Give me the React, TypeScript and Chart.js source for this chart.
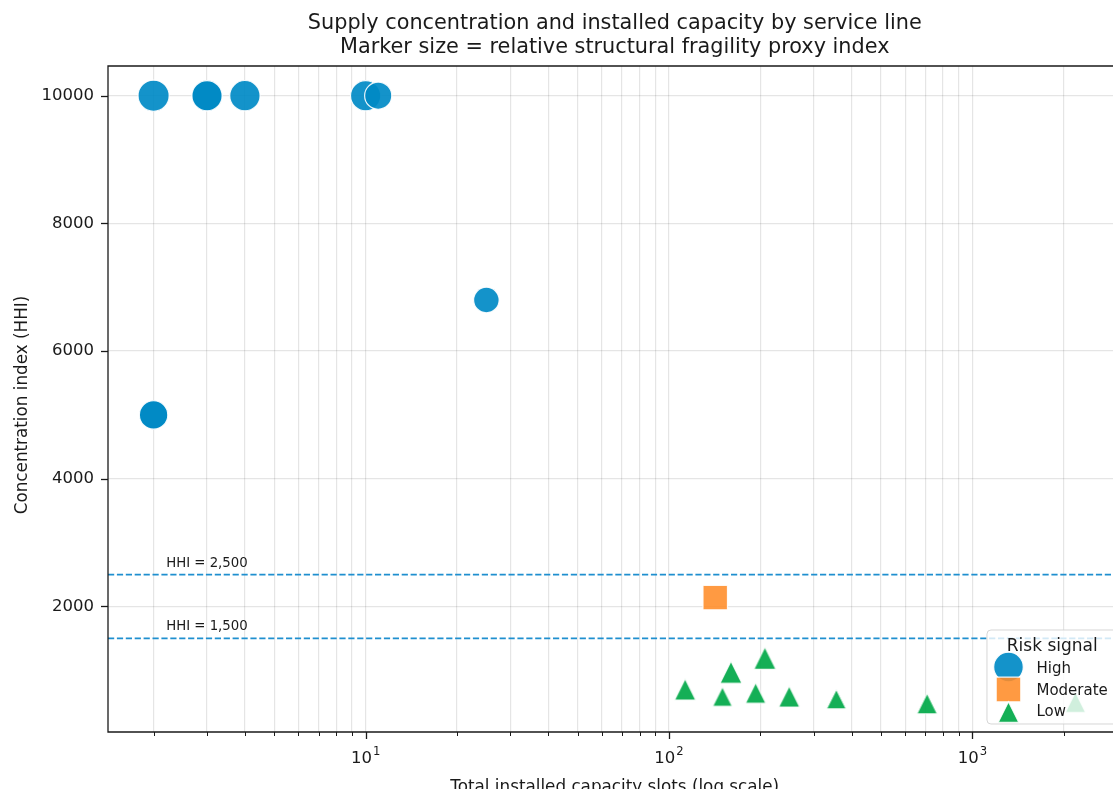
import React, { useEffect, useRef } from "react";
import { Chart, registerables } from "chart.js";

Chart.register(...registerables);

// ---------- data ----------
const riskLevels = ["High", "Moderate", "Low"];

const highCapacity = [2, 3, 3, 4, 10, 11, 25, 2, 2];
const highHHI = [10000, 10000, 10000, 10000, 10000, 10000, 6800, 5000, 5000];
const highFragility = [0.93, 0.86, 0.86, 0.87, 0.86, 0.63, 0.52, 0.72, 0.72];

const moderateCapacity = [142];
const moderateHHI = [2140];
const moderateFragility = [0.375];

const lowCapacity = [113, 150, 160, 193, 207, 249, 356, 709, 2185];
const lowHHI = [700, 590, 970, 645, 1190, 590, 550, 480, 500];
const lowFragility = [0.2, 0.11, 0.23, 0.15, 0.25, 0.18, 0.11, 0.15, 0.15];

const thresholdValues = [2500, 1500];
const thresholdLabels = ["HHI = 2,500", "HHI = 1,500"];
const thresholdLabelX = 2.2;

const yTicks = [2000, 4000, 6000, 8000, 10000];
const xMajorTicks = [10, 100, 1000];
const xMajorBase = ["10", "10", "10"];
const xMajorExp = ["1", "2", "3"];

const X_MIN = 1.415;
const X_MAX = 3100;
const Y_MIN = 34;
const Y_MAX = 10465;

const titleLines = [
  "Supply concentration and installed capacity by service line",
  "Marker size = relative structural fragility proxy index",
];
const xAxisTitle = "Total installed capacity slots (log scale)";
const yAxisTitle = "Concentration index (HHI)";
const legendTitle = "Risk signal";

// ---------- styles ----------
const FONT = "'DejaVu Sans', sans-serif";
const TEXT = "#1a1a1a";
const HIGH_FILL = "rgba(0,138,198,0.92)";
const MOD_FILL = "rgba(255,140,40,0.88)";
const LOW_FILL = "rgba(0,168,72,0.92)";
const EDGE = "rgba(255,255,255,0.9)";
const THRESH_COLOR = "#1f8fcf";
const GRID = "rgba(0,0,0,0.1)";

const diam = (f: number) => Math.sqrt(300 + 800 * f);

function trianglePath(ctx: CanvasRenderingContext2D, cx: number, cy: number, d: number) {
  const h = d / 2;
  ctx.beginPath();
  ctx.moveTo(cx, cy - h);
  ctx.lineTo(cx + h, cy + h);
  ctx.lineTo(cx - h, cy + h);
  ctx.closePath();
}

function makeTriangle(d: number) {
  const c = document.createElement("canvas");
  const s = Math.ceil(d + 4);
  c.width = s;
  c.height = s;
  const g = c.getContext("2d")!;
  trianglePath(g, s / 2, s / 2, d);
  g.fillStyle = LOW_FILL;
  g.fill();
  g.strokeStyle = EDGE;
  g.lineWidth = 1.2;
  g.stroke();
  return c;
}

const decorPlugin = {
  id: "decor",
  beforeDatasetsDraw(chart: any) {
    const { ctx, chartArea: a, scales } = chart;
    ctx.save();
    ctx.strokeStyle = THRESH_COLOR;
    ctx.lineWidth = 1.67;
    ctx.setLineDash([6.2, 2.7]);
    thresholdValues.forEach((v) => {
      const py = scales.y.getPixelForValue(v);
      ctx.beginPath();
      ctx.moveTo(a.left, py);
      ctx.lineTo(a.right, py);
      ctx.stroke();
    });
    ctx.restore();
  },
  afterDatasetsDraw(chart: any) {
    const { ctx, chartArea: a, scales } = chart;
    ctx.save();
    // threshold labels
    ctx.fillStyle = TEXT;
    ctx.font = `13.3px ${FONT}`;
    ctx.textAlign = "left";
    ctx.textBaseline = "alphabetic";
    thresholdValues.forEach((v, i) => {
      const py = scales.y.getPixelForValue(v);
      ctx.fillText(thresholdLabels[i], scales.x.getPixelForValue(thresholdLabelX), py - 8);
    });

    // legend
    const lw = 130.5;
    const lh = 94;
    const right = a.right - 4;
    const bottom = a.bottom - 8;
    const left = right - lw;
    const top = bottom - lh;
    ctx.beginPath();
    const r = 4;
    ctx.moveTo(left + r, top);
    ctx.lineTo(left + lw - r, top);
    ctx.arcTo(left + lw, top, left + lw, top + r, r);
    ctx.lineTo(left + lw, top + lh - r);
    ctx.arcTo(left + lw, top + lh, left + lw - r, top + lh, r);
    ctx.lineTo(left + r, top + lh);
    ctx.arcTo(left, top + lh, left, top + lh - r, r);
    ctx.lineTo(left, top + r);
    ctx.arcTo(left, top, left + r, top, r);
    ctx.closePath();
    ctx.fillStyle = "rgba(255,255,255,0.8)";
    ctx.fill();
    ctx.strokeStyle = "rgba(204,204,204,0.8)";
    ctx.lineWidth = 1;
    ctx.stroke();

    ctx.fillStyle = TEXT;
    ctx.font = `17px ${FONT}`;
    ctx.textAlign = "center";
    ctx.fillText(legendTitle, left + lw / 2, top + 20.7);

    const mx = left + 21.5;
    // High marker
    ctx.beginPath();
    ctx.arc(mx, top + 37, 14.8, 0, Math.PI * 2);
    ctx.fillStyle = HIGH_FILL;
    ctx.fill();
    ctx.strokeStyle = EDGE;
    ctx.lineWidth = 1.2;
    ctx.stroke();
    // Moderate marker
    ctx.beginPath();
    ctx.rect(mx - 12.3, top + 59.5 - 12.3, 24.6, 24.6);
    ctx.fillStyle = MOD_FILL;
    ctx.fill();
    ctx.stroke();
    // Low marker
    trianglePath(ctx, mx, top + 82, 20.5);
    ctx.fillStyle = LOW_FILL;
    ctx.fill();
    ctx.stroke();

    ctx.fillStyle = TEXT;
    ctx.font = `15px ${FONT}`;
    ctx.textAlign = "left";
    const tx = left + 49.5;
    ctx.fillText(riskLevels[0], tx, top + 42.7);
    ctx.fillText(riskLevels[1], tx, top + 65);
    ctx.fillText(riskLevels[2], tx, top + 86);
    ctx.restore();
  },
  afterDraw(chart: any) {
    const { ctx, chartArea: a, scales } = chart;
    ctx.save();
    ctx.strokeStyle = TEXT;
    // tick marks
    ctx.lineWidth = 1.3;
    yTicks.forEach((v) => {
      const py = Math.round(scales.y.getPixelForValue(v)) + 0.5;
      ctx.beginPath();
      ctx.moveTo(a.left - 7, py);
      ctx.lineTo(a.left, py);
      ctx.stroke();
    });
    scales.x.ticks.forEach((t: any) => {
      const px = Math.round(scales.x.getPixelForValue(t.value)) + 0.5;
      const major = xMajorTicks.includes(t.value);
      ctx.lineWidth = major ? 1.3 : 1;
      ctx.beginPath();
      ctx.moveTo(px, a.bottom);
      ctx.lineTo(px, a.bottom + (major ? 7 : 4));
      ctx.stroke();
    });
    // spines
    ctx.lineWidth = 1.3;
    ctx.beginPath();
    ctx.moveTo(a.right, a.top);
    ctx.lineTo(a.left, a.top);
    ctx.lineTo(a.left, a.bottom);
    ctx.lineTo(a.right, a.bottom);
    ctx.lineTo(a.right, a.top);
    ctx.stroke();

    // x tick labels (base with superscript exponent)
    ctx.fillStyle = TEXT;
    ctx.textBaseline = "alphabetic";
    ctx.textAlign = "left";
    xMajorTicks.forEach((v, i) => {
      const px = scales.x.getPixelForValue(v);
      ctx.font = `16.5px ${FONT}`;
      const wb = ctx.measureText(xMajorBase[i]).width;
      ctx.font = `11.6px ${FONT}`;
      const we = ctx.measureText(xMajorExp[i]).width;
      const x0 = px - (wb + we + 1) / 2;
      ctx.font = `16.5px ${FONT}`;
      ctx.fillText(xMajorBase[i], x0, a.bottom + 31);
      ctx.font = `11.6px ${FONT}`;
      ctx.fillText(xMajorExp[i], x0 + wb + 1, a.bottom + 23);
    });

    // titles
    ctx.textAlign = "center";
    const cx = (a.left + a.right) / 2;
    ctx.font = `20.8px ${FONT}`;
    ctx.fillText(titleLines[0], cx, 29);
    ctx.fillText(titleLines[1], cx, 53);
    ctx.font = `16.8px ${FONT}`;
    ctx.fillText(xAxisTitle, cx, 792);
    ctx.translate(27, (a.top + a.bottom) / 2 + 6);
    ctx.rotate(-Math.PI / 2);
    ctx.fillText(yAxisTitle, 0, 0);
    ctx.restore();
  },
};

export default function App() {
  const ref = useRef<HTMLCanvasElement>(null);
  useEffect(() => {
    const canvas = ref.current;
    if (!canvas) return;
    const xTickValues: number[] = [];
    for (let e = 0; e <= 3; e++) {
      for (let m = 1; m <= 9; m++) {
        const v = m * Math.pow(10, e);
        if (v >= X_MIN && v <= X_MAX) xTickValues.push(v);
      }
    }
    const chart = new Chart(canvas, {
      type: "scatter",
      data: {
        datasets: [
          {
            label: riskLevels[0],
            data: highCapacity.map((x, i) => ({ x, y: highHHI[i] })),
            pointStyle: "circle",
            pointRadius: highFragility.map((f) => diam(f) / 2 - 0.6),
            pointHoverRadius: highFragility.map((f) => diam(f) / 2 - 0.6),
            backgroundColor: HIGH_FILL,
            borderColor: EDGE,
            borderWidth: 1.2,
            order: 3,
          },
          {
            label: riskLevels[1],
            data: moderateCapacity.map((x, i) => ({ x, y: moderateHHI[i] })),
            pointStyle: "rect",
            pointRadius: moderateFragility.map((f) => diam(f) / Math.SQRT2),
            pointHoverRadius: moderateFragility.map((f) => diam(f) / Math.SQRT2),
            backgroundColor: MOD_FILL,
            borderColor: EDGE,
            borderWidth: 1.2,
            order: 2,
          },
          {
            label: riskLevels[2],
            data: lowCapacity.map((x, i) => ({ x, y: lowHHI[i] })),
            pointStyle: lowFragility.map((f) => makeTriangle(diam(f))) as any,
            pointRadius: 10,
            pointHoverRadius: 10,
            backgroundColor: LOW_FILL,
            borderColor: EDGE,
            borderWidth: 0,
            order: 1,
          },
        ],
      },
      options: {
        animation: false,
        responsive: false,
        devicePixelRatio: 1,
        layout: { padding: { top: 66, left: 0, right: 14, bottom: 0 } },
        plugins: {
          legend: { display: false },
          title: { display: false },
          tooltip: { enabled: false },
        },
        events: [],
        scales: {
          x: {
            type: "logarithmic",
            position: "bottom",
            min: X_MIN,
            max: X_MAX,
            afterBuildTicks: (axis: any) => {
              axis.ticks = xTickValues.map((v) => ({ value: v, major: xMajorTicks.includes(v) }));
            },
            afterFit: (axis: any) => {
              axis.height = 57;
            },
            ticks: { display: false, autoSkip: false },
            grid: { color: GRID, lineWidth: 1.2, drawTicks: false },
            border: { display: false },
          },
          y: {
            type: "linear",
            position: "left",
            min: Y_MIN,
            max: Y_MAX,
            afterBuildTicks: (axis: any) => {
              axis.ticks = yTicks.map((v) => ({ value: v }));
            },
            afterFit: (axis: any) => {
              axis.width = 108;
            },
            ticks: {
              padding: 14,
              color: TEXT,
              font: { family: FONT, size: 16.5 },
              callback: (value: any) => String(value),
            },
            grid: { color: GRID, lineWidth: 1.2, drawTicks: false },
            border: { display: false },
          },
        },
      },
      plugins: [decorPlugin],
    } as any);
    return () => chart.destroy();
  }, []);

  return (
    <div
      style={{
        position: "fixed",
        left: 0,
        top: 0,
        width: 1113,
        height: 789,
        overflow: "hidden",
        background: "#fff",
      }}
    >
      <canvas ref={ref} width={1140} height={789} style={{ display: "block", width: 1140, height: 789 }} />
    </div>
  );
}
